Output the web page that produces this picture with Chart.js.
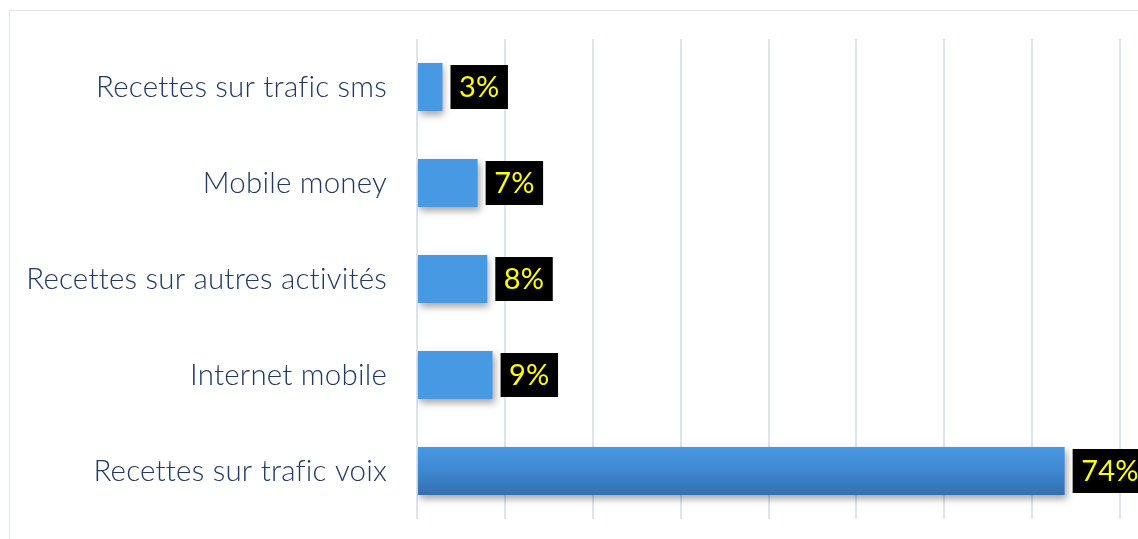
<!DOCTYPE html>
<html>
<head>
<meta charset="utf-8">
<script src="https://cdn.jsdelivr.net/npm/chart.js@4.4.0/dist/chart.umd.min.js"></script>
<style>
  html, body { margin: 0; padding: 0; background: #fff; overflow: hidden; }
  #frame { position: absolute; left: 9px; top: 10px; width: 1140px; height: 540px; border: 1px solid #dfe3ea; box-sizing: border-box; }
  #wrap { position: absolute; left: 0; top: 0; width: 1138px; height: 539px; }
</style>
</head>
<body>
<div id="frame"></div>
<div id="wrap"><canvas id="c" width="1138" height="539"></canvas></div>
<script>
const categories = [
  "Recettes sur trafic sms",
  "Mobile money",
  "Recettes sur autres activités",
  "Internet mobile",
  "Recettes sur trafic voix"
];
const values = [2.9, 6.9, 8.0, 8.6, 73.7];
const valueLabels = ["3%", "7%", "8%", "9%", "74%"];
const axisMax = 80;
const gridStep = 10;

const noLigatures = {
  id: 'noLigatures',
  beforeDraw(chart) {
    if ('letterSpacing' in chart.ctx) chart.ctx.letterSpacing = '0.2px';
  }
};

const barStyle = {
  id: 'barStyle',
  beforeDatasetsDraw(chart) {
    const ctx = chart.ctx;
    const meta = chart.getDatasetMeta(0);
    meta.data.forEach(el => {
      const top = el.y - el.height / 2, bot = el.y + el.height / 2;
      const g = ctx.createLinearGradient(0, top, 0, bot);
      g.addColorStop(0, '#4799e3');
      g.addColorStop(0.5, '#3f87d0');
      g.addColorStop(1, '#3470b1');
      el.options.backgroundColor = g;
    });
    ctx.save();
    ctx.shadowColor = 'rgba(0,0,0,0.35)';
    ctx.shadowBlur = 7;
    ctx.shadowOffsetX = 2;
    ctx.shadowOffsetY = 4;
  },
  afterDatasetsDraw(chart) {
    const ctx = chart.ctx;
    ctx.restore();
    const meta = chart.getDatasetMeta(0);
    ctx.save();
    ctx.font = '400 29px Lato, "Noto Sans", sans-serif';
    ctx.textBaseline = 'middle';
    ctx.textAlign = 'left';
    meta.data.forEach((el, i) => {
      const t = valueLabels[i];
      const w = ctx.measureText(t).width;
      const x = el.x + 8;
      const h = 44;
      const y = el.y - h / 2;
      ctx.fillStyle = '#000';
      ctx.fillRect(x, y, w + 17, h);
      ctx.fillStyle = '#ffff00';
      ctx.fillText(t, x + 8.5, el.y + 1);
    });
    ctx.restore();
  }
};

new Chart(document.getElementById('c'), {
  type: 'bar',
  data: {
    labels: categories,
    datasets: [{
      data: values,
      backgroundColor: '#3f87d0',
      borderWidth: 0,
      barPercentage: 1.0,
      categoryPercentage: 0.5
    }]
  },
  options: {
    indexAxis: 'y',
    responsive: false,
    animation: false,
    layout: { padding: { top: 39, bottom: 20, left: 0, right: 18 } },
    plugins: { legend: { display: false }, tooltip: { enabled: false } },
    scales: {
      x: {
        min: 0, max: axisMax,
        ticks: { display: false, stepSize: gridStep },
        grid: { color: '#dfe3ea', lineWidth: 2, drawTicks: false },
        border: { display: false },
        afterFit(s) { s.height = 0; s.paddingLeft = 0; s.paddingRight = 0; }
      },
      y: {
        ticks: {
          color: '#1f3864',
          font: { family: 'Lato, "Noto Sans", sans-serif', size: 29.5, weight: 300 },
          padding: 30
        },
        grid: { display: false, drawTicks: false },
        border: { display: false },
        afterFit(s) { s.width = 417; s.paddingTop = 0; s.paddingBottom = 0; }
      }
    }
  },
  plugins: [noLigatures, barStyle]
});
</script>
</body>
</html>
